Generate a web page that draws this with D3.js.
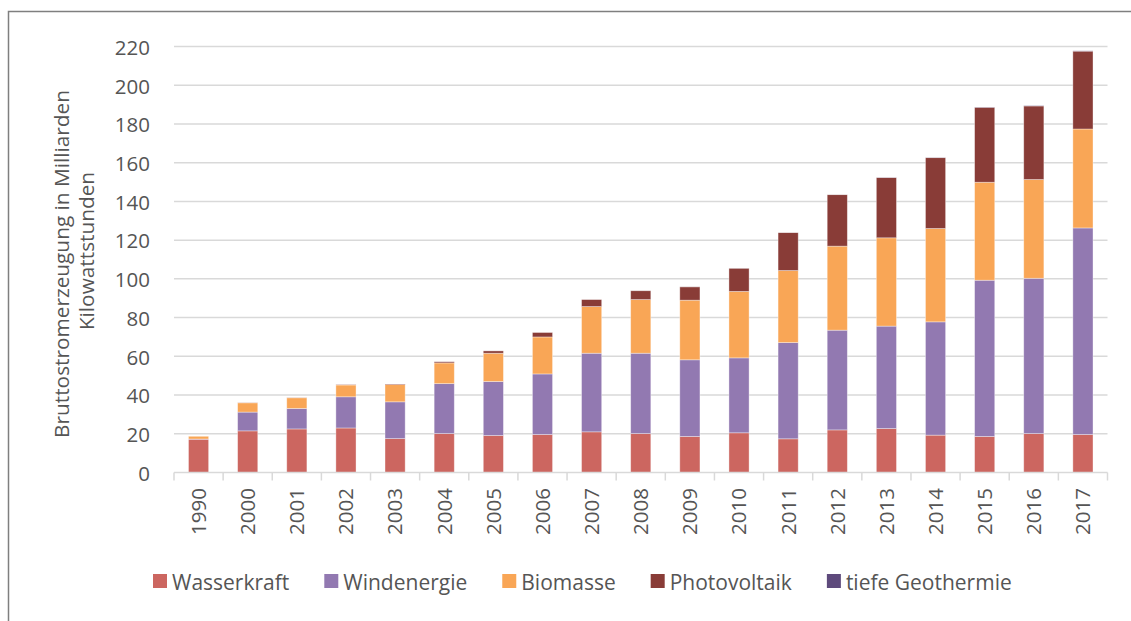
<!DOCTYPE html>
<html><head><meta charset="utf-8">
<script src="https://cdn.jsdelivr.net/npm/d3@7"></script>
<style>
html,body{margin:0;padding:0;background:#fff;}
text{font-family:"Open Sans",sans-serif;fill:#555555;}
</style></head>
<body><svg id="c" width="1131" height="621"></svg>
<script>
const years = ["1990","2000","2001","2002","2003","2004","2005","2006","2007","2008","2009","2010","2011","2012","2013","2014","2015","2016","2017"];
const seriesNames = ["Wasserkraft","Windenergie","Biomasse","Photovoltaik","tiefe Geothermie"];
const wasserkraft = [17.2,21.5,22.5,23.0,17.5,20.1,19.1,19.6,21.0,20.1,18.6,20.5,17.4,22.0,22.7,19.3,18.6,20.1,19.6];
const windenergie = [0.1,9.7,10.6,16.1,19.0,25.8,27.9,31.3,40.6,41.5,39.6,38.7,49.7,51.5,52.9,58.5,80.7,80.2,106.7];
const biomasse = [1.4,4.8,5.5,6.1,8.9,10.7,14.6,19.1,24.1,27.7,30.8,34.3,37.2,43.4,45.6,48.2,50.6,51.0,51.1];
const photovoltaik = [0.0,0.1,0.1,0.2,0.3,0.6,1.2,2.3,3.6,4.6,6.9,12.0,19.6,26.6,31.1,36.6,38.7,38.0,40.2];
const geothermie = [0.0,0.0,0.0,0.0,0.0,0.0,0.0,0.0,0.0,0.02,0.02,0.03,0.02,0.03,0.08,0.1,0.13,0.18,0.16];
const yTicks = [0,20,40,60,80,100,120,140,160,180,200,220];
const colors = ["#CC6660","#9279B1","#F9A656","#893C37","#5E4A7C"];
const yTitle = ["Bruttostromerzeugung in Milliarden","Kilowattstunden"];

const svg = d3.select("#c");
// frame
svg.append("rect").attr("x",8.5).attr("y",11.5).attr("width",1140).attr("height",640)
  .attr("fill","none").attr("stroke","#7f7f7f").attr("stroke-width",1.5);

const L=174, R=1107.5, T=46.5, B=472.5;
const x = d3.scaleBand().domain(years).range([L,R]).paddingInner(0.59).paddingOuter(0.295);
const y = d3.scaleLinear().domain([0,220]).range([B,T]);

const table = years.map((yr,i)=>({year:yr,Wasserkraft:wasserkraft[i],Windenergie:windenergie[i],Biomasse:biomasse[i],Photovoltaik:photovoltaik[i],"tiefe Geothermie":geothermie[i]}));
const stacked = d3.stack().keys(seriesNames)(table);

// gridlines
svg.append("g").selectAll("line").data(yTicks.filter(d=>d>0)).join("line")
  .attr("x1",L).attr("x2",R).attr("y1",d=>y(d)).attr("y2",d=>y(d))
  .attr("stroke","#d9d9d9").attr("stroke-width",1.5);

// y axis labels
const yAxis = d3.axisLeft(y).tickValues(yTicks).tickSize(0).tickPadding(0);
const ya = svg.append("g").attr("transform",`translate(${150},0)`).call(yAxis);
ya.select(".domain").remove();
ya.selectAll("text").attr("font-size","20.5px").style("font-family","'Open Sans',sans-serif").attr("fill","#555555").attr("dy","0.38em");

// bars
svg.append("g").selectAll("g").data(stacked).join("g").attr("fill",(d,i)=>colors[i])
  .selectAll("rect").data(d=>d).join("rect")
  .attr("x",d=>x(d.data.year)).attr("width",x.bandwidth())
  .attr("y",d=>y(d[1])).attr("height",d=>Math.max(0,y(d[0])-y(d[1])))
  .attr("stroke","#ffffff").attr("stroke-opacity",0.45).attr("stroke-width",0.8);

// x axis
const step = x.step();
const xa = svg.append("g");
xa.append("line").attr("x1",L).attr("x2",R).attr("y1",B).attr("y2",B).attr("stroke","#d9d9d9").attr("stroke-width",1.5);
const bounds = d3.range(years.length+1).map(i=>L+i*step);
xa.selectAll("line.t").data(bounds).join("line").attr("class","t")
  .attr("x1",d=>d).attr("x2",d=>d).attr("y1",B).attr("y2",B+8).attr("stroke","#d9d9d9").attr("stroke-width",1.5);
xa.selectAll("text").data(years).join("text")
  .attr("transform",d=>`translate(${x(d)+x.bandwidth()/2},${488}) rotate(-90)`)
  .attr("text-anchor","end").attr("dy","0.36em").attr("font-size","20.5px").text(d=>d);

// y title
svg.append("text").attr("transform","translate(61,264) rotate(-90)").attr("text-anchor","middle")
  .attr("dy","0.36em").attr("font-size","20.8px").text(yTitle[0]);
svg.append("text").attr("transform","translate(86,251) rotate(-90)").attr("text-anchor","middle")
  .attr("dy","0.36em").attr("font-size","20.8px").text(yTitle[1]);

// legend
let lx = 153;
const lg = svg.append("g");
seriesNames.forEach((n,i)=>{
  lg.append("rect").attr("x",lx).attr("y",574).attr("width",14).attr("height",14).attr("fill",colors[i]);
  const t = lg.append("text").attr("x",lx+19).attr("y",590).attr("font-size","21px").text(n);
  lx += 19 + t.node().getComputedTextLength() + 35;
});
</script></body></html>
